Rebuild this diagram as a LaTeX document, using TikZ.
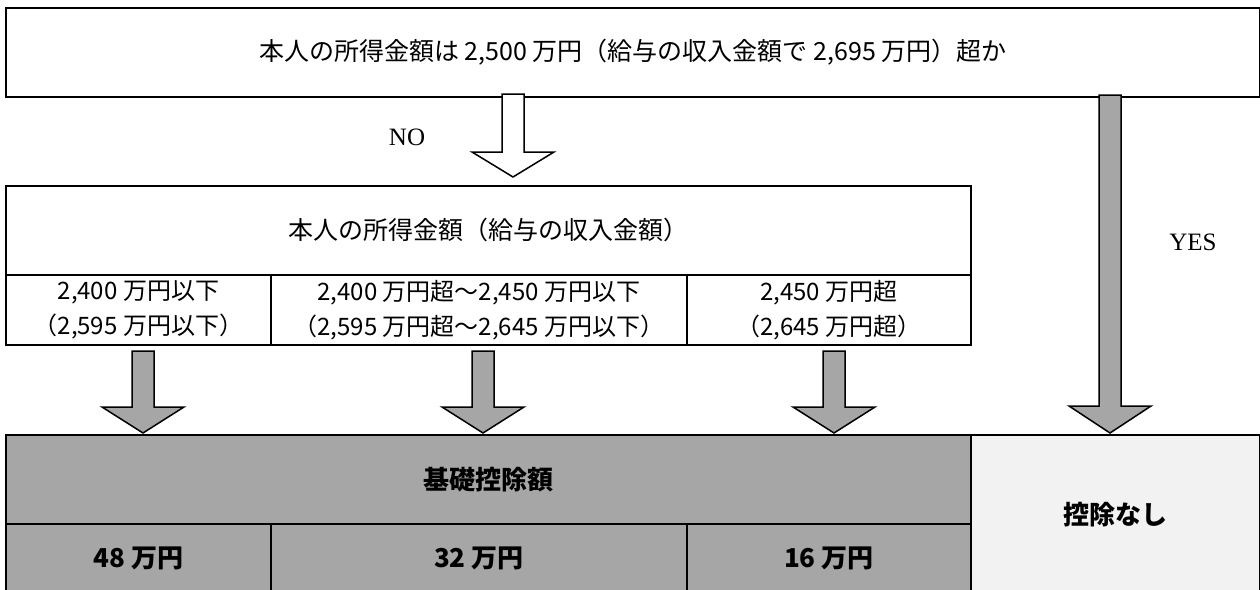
\documentclass[tikz,border=0pt]{standalone}
\usepackage{fontspec}
\setmainfont{Liberation Serif}
\newfontfamily\jp{Noto Sans CJK JP}
\definecolor{boxgray}{HTML}{A6A6A6}
\definecolor{palegray}{HTML}{F2F2F2}
\newcommand{\blockarr}[4]{%
  \draw[arrowline, fill=#1] (#2) -- ++(41,-#3) -- ++(-30,0) -- ++(0,-#4) -- ++(-22,0) -- ++(0,#4) -- ++(-30,0) -- cycle;}
\begin{document}
\begin{tikzpicture}[x=1pt,y=-1pt,
  cell/.style={draw, line width=1.7pt, inner sep=0pt, anchor=north west, align=center,
    font=\jp\fontsize{24}{35}\selectfont},
  boldcell/.style={cell, fill=boxgray, font=\jp\bfseries\fontsize{26}{35}\selectfont},
  arrowline/.style={draw, line width=1.5pt, line join=miter},
  lbl/.style={font=\fontsize{25}{30}\selectfont, inner sep=0pt}]
\useasboundingbox (0,0) rectangle (1260,589);
% top question
\node[cell, minimum width=1254pt, minimum height=89pt, font=\jp\fontsize{25}{30}\selectfont] (q) at (5,7)
  {本人の所得金額は 2,500 万円（給与の収入金額で 2,695 万円）超か};
% middle table
\node[cell, minimum width=965pt, minimum height=89pt, font=\jp\fontsize{25}{30}\selectfont] (h) at (5,185)
  {本人の所得金額（給与の収入金額）};
\node[cell, minimum width=265pt, minimum height=70pt] (c1) at (5,274)
  {2,400 万円以下\\（2,595 万円以下）};
\node[cell, minimum width=416pt, minimum height=70pt] (c2) at (270,274)
  {2,400 万円超～2,450 万円以下\\（2,595 万円超～2,645 万円以下）};
\node[cell, minimum width=284pt, minimum height=70pt] (c3) at (686,274)
  {2,450 万円超\\（2,645 万円超）};
% bottom table
\node[boldcell, minimum width=965pt, minimum height=89pt] (b) at (5,434) {基礎控除額};
\node[boldcell, minimum width=265pt, minimum height=70pt] (d1) at (5,523) {48 万円};
\node[boldcell, minimum width=416pt, minimum height=70pt] (d2) at (270,523) {32 万円};
\node[boldcell, minimum width=284pt, minimum height=70pt] (d3) at (686,523) {16 万円};
\node[boldcell, fill=palegray, minimum width=289pt, minimum height=159pt] (n) at (970,434) {控除なし};
% labels
\node[lbl] (no) at (407,137) {NO};
\node[lbl] (yes) at (1193,242) {YES};
% block arrows
\coordinate (tNO) at (513,177);
\coordinate (tYES) at (1110,433);
\coordinate (t1) at (143,433);
\coordinate (t2) at (483,433);
\coordinate (t3) at (834,433);
\blockarr{white}{tNO}{25}{58}
\blockarr{boxgray}{tYES}{27}{311}
\blockarr{boxgray}{t1}{26}{56}
\blockarr{boxgray}{t2}{26}{56}
\blockarr{boxgray}{t3}{26}{56}
\end{tikzpicture}
\end{document}
